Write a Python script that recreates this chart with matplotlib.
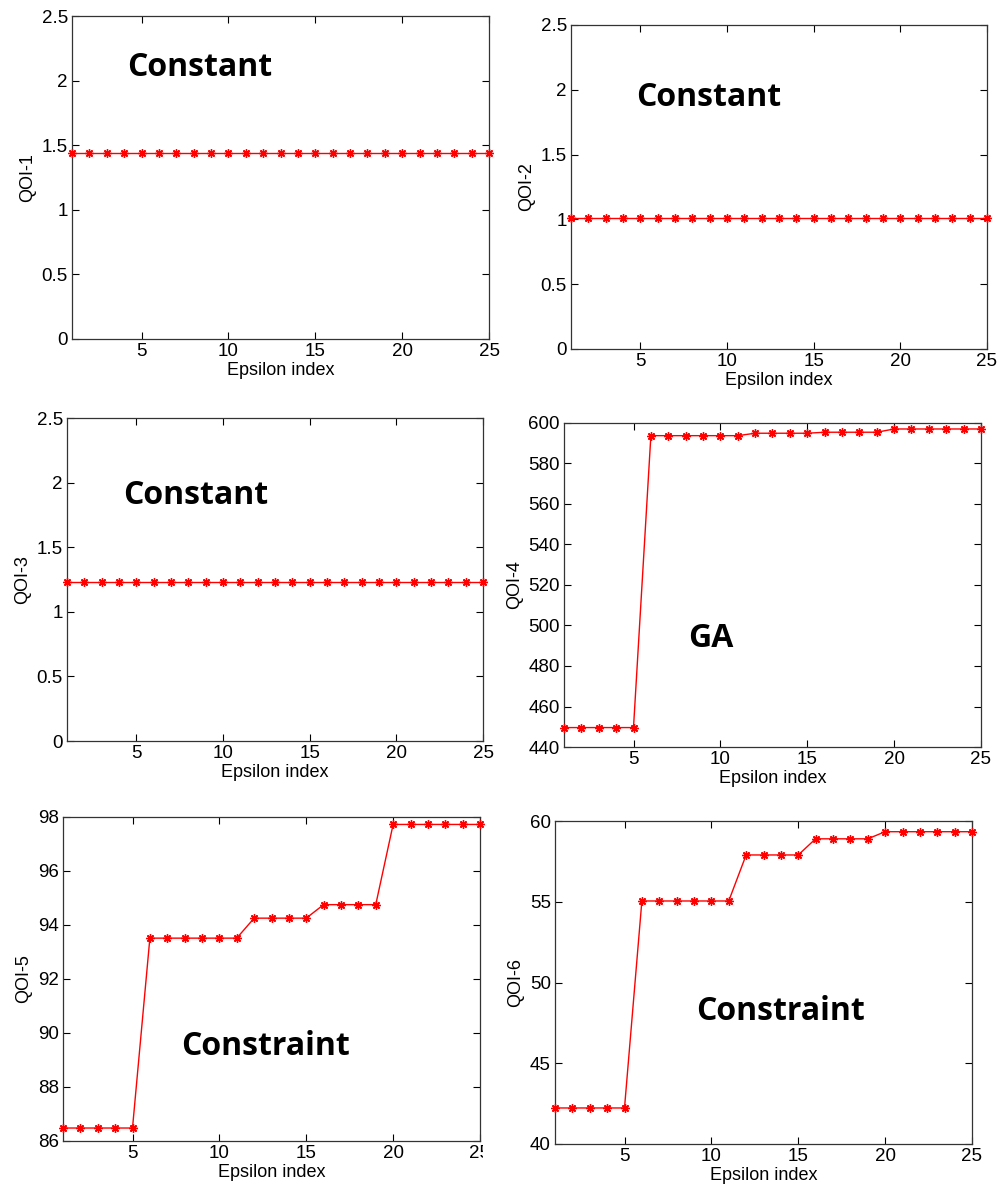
import matplotlib
matplotlib.use("Agg")
from matplotlib import pyplot as plt
from matplotlib.transforms import Bbox, TransformedBbox

# Epsilon index (x axis shared by every panel)
epsilon_index = [1, 2, 3, 4, 5, 6, 7, 8, 9, 10, 11, 12, 13, 14, 15, 16, 17, 18, 19, 20, 21, 22, 23, 24, 25]

# QOI values
qoi_1 = [1.44, 1.44, 1.44, 1.44, 1.44, 1.44, 1.44, 1.44, 1.44, 1.44, 1.44, 1.44, 1.44,
         1.44, 1.44, 1.44, 1.44, 1.44, 1.44, 1.44, 1.44, 1.44, 1.44, 1.44, 1.44]
qoi_2 = [1.01, 1.01, 1.01, 1.01, 1.01, 1.01, 1.01, 1.01, 1.01, 1.01, 1.01, 1.01, 1.01,
         1.01, 1.01, 1.01, 1.01, 1.01, 1.01, 1.01, 1.01, 1.01, 1.01, 1.01, 1.01]
qoi_3 = [1.23, 1.23, 1.23, 1.23, 1.23, 1.23, 1.23, 1.23, 1.23, 1.23, 1.23, 1.23, 1.23,
         1.23, 1.23, 1.23, 1.23, 1.23, 1.23, 1.23, 1.23, 1.23, 1.23, 1.23, 1.23]
qoi_4 = [449.6, 449.6, 449.6, 449.6, 449.6, 593.7, 593.7, 593.7, 593.7, 593.7, 593.7,
         594.9, 594.9, 594.9, 594.9, 595.4, 595.4, 595.4, 595.4,
         597.0, 597.0, 597.0, 597.0, 597.0, 597.0]
qoi_5 = [86.48, 86.48, 86.48, 86.48, 86.48, 93.51, 93.51, 93.51, 93.51, 93.51, 93.51,
         94.25, 94.25, 94.25, 94.25, 94.75, 94.75, 94.75, 94.75,
         97.72, 97.72, 97.72, 97.72, 97.72, 97.72]
qoi_6 = [42.23, 42.23, 42.23, 42.23, 42.23, 55.05, 55.05, 55.05, 55.05, 55.05, 55.05,
         57.9, 57.9, 57.9, 57.9, 58.9, 58.9, 58.9, 58.9,
         59.34, 59.34, 59.34, 59.34, 59.34, 59.34]

y_labels = ["QOI-1", "QOI-2", "QOI-3", "QOI-4", "QOI-5", "QOI-6"]
notes = ["Constant", "Constant", "Constant", "GA", "Constraint", "Constraint"]

# posicao dos paineis (fracao da figura) e ajustes dos eixos
posicoes = [
    [0.072, 0.7166, 0.417, 0.270],
    [0.571, 0.7082, 0.416, 0.271],
    [0.067, 0.3804, 0.416, 0.270],
    [0.564, 0.3754, 0.417, 0.271],
    [0.063, 0.0460, 0.417, 0.271],
    [0.555, 0.0435, 0.417, 0.270],
]
limites_y = [(0, 2.5), (0, 2.5), (0, 2.5), (440, 600), (86, 98), (40, 60)]
ticks_y = [
    [0, 0.5, 1, 1.5, 2, 2.5],
    [0, 0.5, 1, 1.5, 2, 2.5],
    [0, 0.5, 1, 1.5, 2, 2.5],
    [440, 460, 480, 500, 520, 540, 560, 580, 600],
    [86, 88, 90, 92, 94, 96, 98],
    [40, 45, 50, 55, 60],
]
rotulos_y = [
    ["0", "0.5", "1", "1.5", "2", "2.5"],
    ["0", "0.5", "1", "1.5", "2", "2.5"],
    ["0", "0.5", "1", "1.5", "2", "2.5"],
    None, None, None,
]
pos_notas = [(4.17, 2.10), (4.75, 1.94), (4.23, 1.90), (8.14, 493.8), (7.79, 89.5), (9.11, 48.2)]

series = [qoi_1, qoi_2, qoi_3, qoi_4, qoi_5, qoi_6]

plt.rcParams['font.family'] = ['Liberation Sans', 'DejaVu Sans']

fig = plt.figure(figsize=(10, 11.96), dpi=100)

eixos = []
for i in range(6):
    ax = fig.add_axes(posicoes[i])
    ax.plot(epsilon_index, series[i], color='red', linewidth=1.0,
            marker=(8, 2, 0), markersize=6, markeredgewidth=1.0, clip_on=False, zorder=3)
    ax.set_xlim(1, 25)
    ax.set_ylim(*limites_y[i])
    ax.set_xticks([5, 10, 15, 20, 25])
    ax.set_yticks(ticks_y[i])
    if rotulos_y[i] is not None:
        ax.set_yticklabels(rotulos_y[i])
    ax.tick_params(direction='in', top=True, right=True, length=5, width=0.8,
                   labelsize=13.5, pad=3)
    for s in ax.spines.values():
        s.set_linewidth(0.9)
        s.set_color('#333333')
    ax.set_xlabel('Epsilon index', fontsize=13, labelpad=1)
    ax.set_ylabel(y_labels[i], fontsize=13, labelpad=4)
    ax.text(pos_notas[i][0], pos_notas[i][1], notes[i], fontsize=23,
            fontweight='bold', family='Open Sans', ha='left', va='center')
    eixos.append(ax)

# o "25" do painel 5 aparece cortado na imagem original
corte = TransformedBbox(Bbox([[0.0, 0.0], [0.483, 1.0]]), fig.transFigure)
for lab in eixos[4].get_xticklabels():
    lab.set_clip_box(corte)
    lab.set_clip_on(True)

fig.savefig('out.png', dpi=100)
